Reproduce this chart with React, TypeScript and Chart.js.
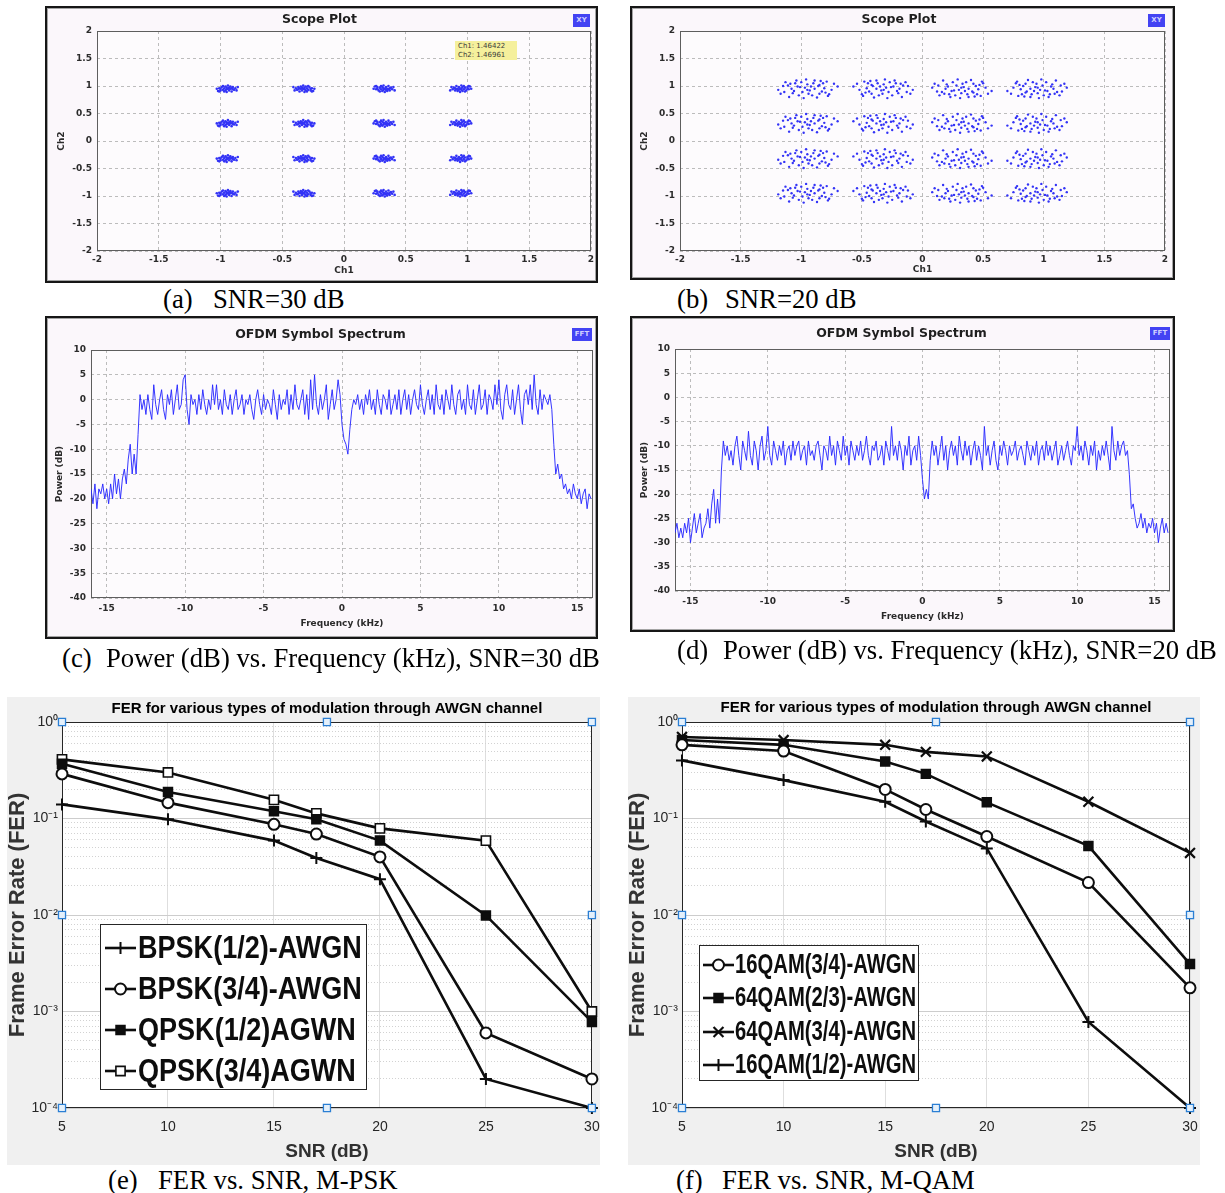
import React, { useEffect, useRef } from 'react';
import { Chart, registerables } from 'chart.js';

Chart.register(...registerables);

// ====================== DATA ======================

// (a)/(b) Scope plots – 16-QAM cluster centres (Ch1 / Ch2) and hand-read scatter offsets
const QAM_LEVELS = [-0.95, -0.32, 0.32, 0.95];
const SCOPE_TICKS = [-2, -1.5, -1, -0.5, 0, 0.5, 1, 1.5, 2];
const SCATTER_OFFSETS_30DB = [
  [-0.06, 0.01], [-0.03, -0.02], [0.0, 0.02], [0.03, 0.0], [0.05, 0.03], [-0.05, -0.03],
  [0.02, -0.03], [-0.01, 0.04], [0.07, 0.01], [-0.08, 0.0], [0.04, -0.05], [-0.02, -0.05],
  [0.01, 0.0], [-0.04, 0.03], [0.06, -0.02], [0.0, -0.01], [-0.07, -0.04], [0.03, 0.04],
  [0.08, -0.03], [-0.02, 0.01], [0.02, 0.02], [-0.05, 0.0], [0.04, 0.01], [-0.01, -0.03],
  [0.05, -0.01], [-0.03, 0.05], [0.09, 0.03], [-0.06, -0.05], [0.01, 0.06], [0.0, -0.06],
];
const SCATTER_OFFSETS_20DB = [
  [-0.2, 0.05], [-0.12, -0.08], [-0.05, 0.12], [0.02, -0.03], [0.1, 0.07], [0.18, -0.1],
  [-0.15, -0.15], [0.06, 0.15], [-0.02, 0.02], [0.14, 0.01], [-0.24, -0.02], [0.22, 0.09],
  [-0.08, 0.04], [0.04, -0.12], [-0.1, 0.1], [0.12, -0.05], [0.0, 0.08], [-0.18, 0.12],
  [0.08, -0.16], [-0.04, -0.06], [0.16, 0.13], [-0.13, 0.0], [0.03, 0.04], [0.2, -0.02],
  [-0.07, -0.12], [0.1, -0.09], [-0.01, 0.17], [0.25, 0.04], [-0.22, -0.09], [0.06, 0.0],
  [-0.16, 0.06], [0.13, 0.1], [-0.03, -0.17], [0.01, -0.09], [-0.09, 0.15], [0.17, -0.13],
  [-0.06, 0.03], [0.09, 0.05], [-0.11, -0.04], [0.05, 0.1], [-0.19, -0.06], [0.15, -0.07],
  [0.0, -0.02], [-0.14, 0.09], [0.11, 0.14],
];

// (c)/(d) OFDM symbol spectrum – FFT bins from -16 kHz, 0.125 kHz apart (16 bins per row)
const FREQ_START_KHZ = -16;
const FREQ_STEP_KHZ = 0.125;
const FREQ_TICKS = [-15, -10, -5, 0, 5, 10, 15];
const POWER_TICKS = [-40, -35, -30, -25, -20, -15, -10, -5, 0, 5, 10];
const SPECTRUM_30DB = [
  -18, -21, -17, -22, -18, -19, -17, -20, -18, -21, -17, -20, -15, -19, -16, -20,
  -16, -14, -17, -12, -9, -15, -11, -15, -7, 1, -2, 0, -3, 1, -2, -4,
  3, -1, -3, 0, 2, -2, -4, 1, -1, 2, -3, 0, 3, -2, -1, 4,
  5, -2, -5, 1, -1, 0, -3, 1, -2, 2, -1, -3, 0, -2, 3, -1,
  3, -2, 0, -3, 2, -1, -2, 1, -3, 0, 2, -2, -1, 1, -3, 0,
  -1, 1, -2, -4, 0, 2, -1, -3, 1, -2, 0, -1, -3, 2, -1, -4,
  1, -2, 0, -1, 2, -3, 1, -2, 3, -1, -2, 0, 2, -3, 1, -4,
  4, -2, 5, -1, -3, 1, -2, 0, 3, -4, -1, 2, -2, 0, 4, 1,
  -5, -8, -9, -11, -6, -2, 0, -1, 1, -2, 0, -3, 1, -1, 2, -2,
  0, -3, 2, -1, -3, 1, 0, -2, 2, -3, -1, 1, -2, 2, -3, 0,
  2, -2, 1, -3, 0, 2, -1, -2, 3, -1, -3, 0, 2, -2, 1, -3,
  3, -1, -2, 1, -3, 2, 0, -2, 3, -1, -3, 1, 2, -2, 0, -3,
  3, -1, -2, 2, -3, 0, 3, -2, -1, 2, -3, 1, 0, -2, 3, -1,
  4, -2, -4, 1, 3, -1, -2, 2, -3, 0, 3, -2, -5, 1, 2, -1,
  3, -2, 5, -1, -3, 2, -2, 1, 0, -1, 1, -2, -9, -15, -13, -16,
  -15, -18, -17, -19, -18, -20, -17, -19, -20, -18, -21, -19, -18, -22, -19, -20,
];
const SPECTRUM_20DB = [
  -28, -26, -29, -27, -29, -26, -28, -25, -30, -27, -24, -28, -26, -24, -29, -27,
  -26, -23, -27, -22, -19, -26, -21, -26, -15, -9, -12, -10, -13, -11, -14, -10,
  -8, -12, -15, -9, -11, -13, -7, -12, -14, -9, -11, -15, -10, -8, -13, -11,
  -6, -12, -14, -9, -11, -13, -10, -12, -9, -14, -11, -10, -13, -9, -12, -10,
  -9, -13, -11, -10, -14, -9, -12, -11, -13, -10, -9, -12, -15, -10, -11, -13,
  -8, -12, -10, -14, -9, -11, -13, -8, -12, -10, -14, -9, -11, -13, -10, -12,
  -9, -13, -11, -8, -12, -14, -10, -11, -9, -13, -12, -10, -14, -9, -11, -13,
  -6, -12, -10, -13, -9, -11, -15, -10, -12, -8, -14, -11, -10, -13, -8, -12,
  -17, -21, -19, -21, -13, -9, -12, -10, -14, -11, -8, -13, -10, -15, -11, -9,
  -12, -10, -14, -8, -11, -13, -9, -12, -10, -14, -11, -9, -13, -10, -12, -15,
  -6, -12, -10, -14, -11, -9, -13, -15, -10, -12, -9, -11, -14, -10, -12, -11,
  -9, -13, -11, -10, -12, -14, -9, -11, -13, -10, -12, -9, -14, -11, -10, -13,
  -9, -12, -10, -13, -11, -9, -14, -12, -10, -13, -11, -9, -12, -14, -10, -11,
  -6, -12, -10, -13, -9, -11, -14, -10, -12, -9, -15, -11, -13, -10, -12, -9,
  -12, -15, -6, -11, -13, -9, -12, -10, -9, -12, -11, -16, -23, -22, -25, -27,
  -26, -24, -27, -25, -28, -26, -27, -25, -28, -26, -30, -27, -25, -28, -26, -28,
];

// (e)/(f) Frame error rate vs SNR
const SNR_DB = [5, 10, 15, 17, 20, 25, 30];
const SNR_TICKS = [5, 10, 15, 20, 25, 30];
const FER_DECADES = [1e-4, 1e-3, 1e-2, 1e-1, 1];
const FER_BPSK_R12 = [0.14, 0.098, 0.059, 0.039, 0.0235, 2.0e-4, 1.0e-4];
const FER_BPSK_R34 = [0.29, 0.146, 0.087, 0.069, 0.04, 6.0e-4, 2.0e-4];
const FER_QPSK_R12 = [0.37, 0.188, 0.119, 0.098, 0.059, 0.0099, 7.8e-4];
const FER_QPSK_R34 = [0.41, 0.3, 0.156, 0.113, 0.079, 0.059, 1.0e-3];
const FER_16QAM_R34 = [0.58, 0.5, 0.2, 0.124, 0.065, 0.0217, 1.76e-3];
const FER_64QAM_R23 = [0.65, 0.58, 0.39, 0.29, 0.147, 0.052, 3.1e-3];
const FER_64QAM_R34 = [0.7, 0.65, 0.58, 0.49, 0.44, 0.149, 0.044];
const FER_16QAM_R12 = [0.4, 0.25, 0.149, 0.093, 0.049, 7.8e-4, 1.0e-4];
// MATLAB edit-mode selection handles (x = SNR, y = FER)
const HANDLE_SNR = [5, 17.5, 30, 5, 30, 5, 17.5, 30];
const HANDLE_FER = [1, 1, 1, 1e-2, 1e-2, 1e-4, 1e-4, 1e-4];

// ====================== STYLE / HELPERS ======================
const QT_FONT = '"DejaVu Sans", Verdana, sans-serif';
const ML_FONT = '"Liberation Sans", Arial, Helvetica, sans-serif';
const SERIF = '"Liberation Serif", "Times New Roman", Times, serif';
const INK = '#0d0d0d';
const ML_AXIS = '#262626';
const QT_PANEL = '#fbf7fb';
const QT_PLOT = '#fdfbfd';
const QT_LINE = 'rgba(38, 38, 255, 0.92)';

const SUP: Record<string, string> = { '-': '\u207B', '0': '\u2070', '1': '\u00B9', '2': '\u00B2', '3': '\u00B3', '4': '\u2074', '5': '\u2075', '6': '\u2076', '7': '\u2077', '8': '\u2078', '9': '\u2079' };
const sup = (n: number) => String(n).split('').map((ch) => SUP[ch] || ch).join('');
const isPow10 = (v?: number) => typeof v === 'number' && v > 0 && Math.abs(Math.log10(v) - Math.round(Math.log10(v))) < 1e-6;
const FER_GRID: number[] = FER_DECADES.slice(0, -1)
  .flatMap((d) => [1, 2, 3, 4, 5, 6, 7, 8, 9].map((m) => +(m * d).toPrecision(3)))
  .concat([FER_DECADES[FER_DECADES.length - 1]]);

function constellation(offsets: number[][]) {
  const pts: { x: number; y: number }[] = [];
  QAM_LEVELS.forEach((ch2, r) => {
    QAM_LEVELS.forEach((ch1, c) => {
      const k = r * 4 + c;
      const fx = k % 2 === 0 ? 1 : -1;
      const fy = Math.floor(k / 2) % 2 === 0 ? 1 : -1;
      offsets.forEach(([dx, dy]) => pts.push({ x: ch1 + fx * dx, y: ch2 + fy * dy }));
    });
  });
  return pts;
}
const spectrumPoints = (vals: number[]) => vals.map((y, i) => ({ x: FREQ_START_KHZ + i * FREQ_STEP_KHZ, y }));

function plotBackdrop(panel: string | null, plot: string, frame: string) {
  return {
    id: 'plotBackdrop',
    beforeDraw(chart: any) {
      const { ctx, chartArea: a, width, height } = chart;
      ctx.save();
      if (panel) {
        ctx.fillStyle = panel;
        ctx.fillRect(0, 0, width, height);
      }
      ctx.fillStyle = plot;
      ctx.fillRect(a.left, a.top, a.right - a.left, a.bottom - a.top);
      ctx.restore();
    },
    beforeDatasetsDraw(chart: any) {
      const { ctx, chartArea: a } = chart;
      ctx.save();
      ctx.strokeStyle = frame;
      ctx.lineWidth = 1;
      ctx.strokeRect(Math.round(a.left) + 0.5, Math.round(a.top) + 0.5, Math.round(a.right - a.left) - 1, Math.round(a.bottom - a.top) - 1);
      ctx.restore();
    },
  };
}

function qtAxis(axis: 'x' | 'y', min: number, max: number, ticks: number[], fit: number, gap: number, title: string, titlePad: any) {
  return {
    type: 'linear',
    min,
    max,
    afterBuildTicks: (s: any) => {
      s.ticks = ticks.map((value) => ({ value }));
    },
    afterFit: (s: any) => {
      if (axis === 'x') s.height = fit;
      else s.width = fit;
    },
    ticks: {
      padding: 0,
      autoSkip: false,
      maxRotation: 0,
      color: '#2b2b2b',
      font: { family: QT_FONT, size: 9, weight: 'bold' },
      callback: (v: any) => String(v),
    },
    grid: { color: '#bcbcbc', lineWidth: 1, tickLength: gap, tickColor: 'rgba(0,0,0,0)' },
    border: { display: false, dash: [3, 3] },
    title: {
      display: true,
      text: title,
      color: '#2b2b2b',
      font: { family: QT_FONT, size: 9, weight: 'bold', lineHeight: '12px' },
      padding: titlePad,
    },
  };
}

function qtConfig(p: any) {
  return {
    type: p.type,
    data: { datasets: p.datasets },
    options: {
      responsive: false,
      animation: false,
      events: [],
      layout: { padding: { left: 0, top: 0, bottom: 0, right: p.padRight } },
      plugins: {
        legend: { display: false },
        tooltip: { enabled: false },
        title: {
          display: true,
          text: p.title,
          color: '#1e1e1e',
          font: { family: QT_FONT, size: 12.5, weight: 'bold', lineHeight: p.titleLH },
          padding: p.titlePad,
        },
      },
      scales: { x: p.x, y: p.y },
    },
    plugins: [plotBackdrop(QT_PANEL, QT_PLOT, '#5e5e5e')],
  };
}

const scopeConfig = (offsets: number[][], geo: any) =>
  qtConfig({
    type: 'scatter',
    datasets: [
      {
        data: constellation(offsets),
        pointRadius: geo.dot,
        pointBorderWidth: 0,
        pointBackgroundColor: '#3333f6',
        showLine: false,
      },
    ],
    title: 'Scope Plot',
    titleLH: '14px',
    titlePad: { top: 4, bottom: 4 },
    padRight: geo.padRight,
    x: qtAxis('x', -2, 2, SCOPE_TICKS, geo.xFit, 3, 'Ch1', { top: 0, bottom: geo.xTitlePad }),
    y: qtAxis('y', -2, 2, SCOPE_TICKS, geo.yFit, 5, 'Ch2', { top: geo.yTitlePad, bottom: 0 }),
  });

const spectrumConfig = (vals: number[], geo: any) =>
  qtConfig({
    type: 'line',
    datasets: [
      {
        data: spectrumPoints(vals),
        borderColor: QT_LINE,
        borderWidth: 1,
        pointRadius: 0,
        tension: 0,
      },
    ],
    title: 'OFDM Symbol Spectrum',
    titleLH: '16px',
    titlePad: geo.titlePad,
    padRight: geo.padRight,
    x: qtAxis('x', -16, 16, FREQ_TICKS, geo.xFit, 5, 'Frequency (kHz)', { top: 0, bottom: 6 }),
    y: qtAxis('y', -40, 10, POWER_TICKS, geo.yFit, 5, 'Power (dB)', { top: 6, bottom: 0 }),
  });

// ---------- MATLAB style FER plots ----------
function drawMarker(ctx: CanvasRenderingContext2D, s: any, x: number, y: number) {
  const r = s.r;
  ctx.save();
  ctx.lineWidth = s.bw;
  ctx.strokeStyle = INK;
  ctx.fillStyle = s.fill;
  ctx.beginPath();
  if (s.marker === 'circle') {
    ctx.arc(x, y, r, 0, Math.PI * 2);
    ctx.fill();
    ctx.stroke();
  } else if (s.marker === 'rect') {
    const h = r * Math.SQRT1_2;
    ctx.rect(x - h, y - h, 2 * h, 2 * h);
    ctx.fill();
    ctx.stroke();
  } else {
    if (s.marker === 'cross' || s.marker === 'star') {
      ctx.moveTo(x - r, y);
      ctx.lineTo(x + r, y);
      ctx.moveTo(x, y - r);
      ctx.lineTo(x, y + r);
    }
    if (s.marker === 'crossRot' || s.marker === 'star') {
      const d = r * Math.SQRT1_2;
      ctx.moveTo(x - d, y - d);
      ctx.lineTo(x + d, y + d);
      ctx.moveTo(x - d, y + d);
      ctx.lineTo(x + d, y - d);
    }
    ctx.stroke();
  }
  ctx.restore();
}

function ferLegend(series: any[], L: any) {
  return {
    id: 'ferLegend',
    afterDraw(chart: any) {
      const ctx: CanvasRenderingContext2D = chart.ctx;
      const [bx, by, bw, bh] = L.box;
      ctx.save();
      ctx.fillStyle = '#ffffff';
      ctx.fillRect(bx, by, bw, bh);
      ctx.strokeStyle = ML_AXIS;
      ctx.lineWidth = 1;
      ctx.strokeRect(bx + 0.5, by + 0.5, bw - 1, bh - 1);
      ctx.font = `bold ${L.fontSize}px ${ML_FONT}`;
      ctx.textBaseline = 'middle';
      ctx.textAlign = 'left';
      series.forEach((s, i) => {
        const y = L.rows[i];
        ctx.strokeStyle = INK;
        ctx.lineWidth = 2.6;
        ctx.beginPath();
        ctx.moveTo(L.lineX[0], y);
        ctx.lineTo(L.lineX[1], y);
        ctx.stroke();
        drawMarker(ctx, s, (L.lineX[0] + L.lineX[1]) / 2, y);
        ctx.fillStyle = INK;
        const w = ctx.measureText(s.label).width;
        ctx.fillText(s.label, L.textX, y + 1, w * L.condense);
      });
      ctx.restore();
    },
  };
}

const PSK_SERIES = [
  { label: 'BPSK(1/2)-AWGN', values: FER_BPSK_R12, marker: 'cross', r: 6, bw: 2, fill: '#ffffff' },
  { label: 'BPSK(3/4)-AWGN', values: FER_BPSK_R34, marker: 'circle', r: 5.5, bw: 2, fill: '#ffffff' },
  { label: 'QPSK(1/2)AGWN', values: FER_QPSK_R12, marker: 'rect', r: 6, bw: 2, fill: INK },
  { label: 'QPSK(3/4)AGWN', values: FER_QPSK_R34, marker: 'rect', r: 6.5, bw: 1.6, fill: '#ffffff' },
];
const QAM_SERIES = [
  { label: '16QAM(3/4)-AWGN', values: FER_16QAM_R34, marker: 'circle', r: 5.5, bw: 2, fill: '#ffffff' },
  { label: '64QAM(2/3)-AWGN', values: FER_64QAM_R23, marker: 'rect', r: 6, bw: 2, fill: INK },
  { label: '64QAM(3/4)-AWGN', values: FER_64QAM_R34, marker: 'crossRot', r: 7, bw: 2.2, fill: '#ffffff' },
  { label: '16QAM(1/2)-AWGN', values: FER_16QAM_R12, marker: 'cross', r: 6, bw: 2, fill: '#ffffff' },
];

function ferConfig(series: any[], geo: any) {
  const datasets: any[] = [
    {
      label: 'handles',
      data: HANDLE_SNR.map((x, i) => ({ x, y: HANDLE_FER[i] })),
      showLine: false,
      pointStyle: 'rect',
      pointRadius: 5,
      pointBorderWidth: 1.3,
      pointBorderColor: '#2b7fd4',
      pointBackgroundColor: '#e4f0fb',
      clip: false,
      order: -1,
    },
  ].concat(
    series.map((s) => ({
      label: s.label,
      data: SNR_DB.map((x, i) => ({ x, y: s.values[i] })),
      borderColor: INK,
      borderWidth: 2.6,
      pointStyle: s.marker,
      pointRadius: s.r,
      pointBorderWidth: s.bw,
      pointBorderColor: INK,
      pointBackgroundColor: s.fill,
      clip: false,
      tension: 0,
    }))
  );
  return {
    type: 'line',
    data: { datasets },
    options: {
      responsive: false,
      animation: false,
      events: [],
      layout: { padding: { left: 0, top: 0, bottom: 0, right: geo.padRight } },
      plugins: {
        legend: { display: false },
        tooltip: { enabled: false },
        title: {
          display: true,
          fullSize: false,
          text: 'FER for various types of modulation through AWGN channel',
          color: '#000000',
          font: { family: ML_FONT, size: 15, weight: 'bold', lineHeight: '17px' },
          padding: { top: geo.titleTop, bottom: 25 - 17 - geo.titleTop },
        },
      },
      scales: {
        x: {
          type: 'linear',
          min: 5,
          max: 30,
          afterBuildTicks: (s: any) => {
            s.ticks = SNR_TICKS.map((value) => ({ value }));
          },
          afterFit: (s: any) => {
            s.height = 57;
          },
          ticks: { padding: 0, autoSkip: false, maxRotation: 0, color: ML_AXIS, font: { family: ML_FONT, size: 14 } },
          grid: { color: '#dedede', lineWidth: 1, tickLength: 10.5, tickColor: 'rgba(0,0,0,0)' },
          border: { display: false },
          title: {
            display: true,
            text: 'SNR (dB)',
            color: '#303030',
            font: { family: ML_FONT, size: 19, weight: 'bold', lineHeight: '22px' },
            padding: { top: 0, bottom: 2 },
          },
        },
        y: {
          type: 'logarithmic',
          min: 1e-4,
          max: 1,
          afterBuildTicks: (s: any) => {
            s.ticks = FER_GRID.map((value) => ({ value }));
          },
          afterFit: (s: any) => {
            s.width = geo.yFit;
          },
          ticks: {
            padding: 0,
            autoSkip: false,
            color: ML_AXIS,
            font: { family: ML_FONT, size: 14 },
            callback: (v: any) => (isPow10(v) ? '10' + sup(Math.round(Math.log10(v))) : ''),
          },
          grid: {
            color: (c: any) => (isPow10(c.tick && c.tick.value) ? '#cdcdcd' : '#d2d2d2'),
            lineWidth: 1,
            tickLength: 4,
            tickColor: 'rgba(0,0,0,0)',
          },
          border: { display: false, dash: (c: any) => (c.tick && !isPow10(c.tick.value) ? [1, 2] : []) },
          title: {
            display: true,
            text: 'Frame Error Rate (FER)',
            color: '#333333',
            font: { family: ML_FONT, size: 22, weight: 'bold', lineHeight: geo.yTitleLH },
            padding: { top: 0, bottom: 0 },
          },
        },
      },
    },
    plugins: [plotBackdrop('#f0f0f0', '#ffffff', ML_AXIS), ferLegend(series, geo.legend)],
  };
}

// ====================== COMPONENTS ======================
function ChartBox({ left, top, width, height, make }: any) {
  const ref = useRef<HTMLCanvasElement | null>(null);
  useEffect(() => {
    const chart = new Chart(ref.current as HTMLCanvasElement, make());
    return () => chart.destroy();
  }, []);
  return (
    <canvas
      ref={ref}
      width={width}
      height={height}
      style={{ position: 'absolute', left, top, width, height, display: 'block' }}
    />
  );
}

function Frame({ left, top, width, height }: any) {
  return (
    <div
      style={{
        position: 'absolute',
        left,
        top,
        width,
        height,
        boxSizing: 'border-box',
        border: '2px solid #161616',
        background: QT_PANEL,
      }}
    >
      <div style={{ position: 'absolute', inset: 0, border: '1px solid #a4a4a4' }} />
    </div>
  );
}

function Badge({ left, top, width, text }: any) {
  return (
    <div
      style={{
        position: 'absolute',
        left,
        top,
        width,
        height: 13,
        background: '#4343f3',
        color: '#cfcfff',
        font: `bold 7px/13px ${QT_FONT}`,
        textAlign: 'center',
      }}
    >
      {text}
    </div>
  );
}

function Caption({ tagX, textX, cy, tag, text }: any) {
  const st: any = {
    position: 'absolute',
    top: cy - 13,
    font: `26.7px/26px ${SERIF}`,
    color: '#000',
    whiteSpace: 'nowrap',
  };
  return (
    <>
      <div style={{ ...st, left: tagX }}>{tag}</div>
      <div style={{ ...st, left: textX }}>{text}</div>
    </>
  );
}

export default function App() {
  return (
    <div style={{ position: 'absolute', left: 0, top: 0, width: 1225, height: 1193, background: '#ffffff', overflow: 'hidden' }}>
      <Frame left={45} top={6} width={553} height={277} />
      <Frame left={630} top={6} width={545} height={274} />
      <Frame left={45} top={316} width={553} height={323} />
      <Frame left={630} top={316} width={545} height={316} />

      <ChartBox
        left={48}
        top={9}
        width={547}
        height={271}
        make={() => scopeConfig(SCATTER_OFFSETS_30DB, { dot: 1.3, padRight: 4, xFit: 29, yFit: 49, xTitlePad: 3, yTitlePad: 8 })}
      />
      <ChartBox
        left={633}
        top={9}
        width={539}
        height={268}
        make={() => scopeConfig(SCATTER_OFFSETS_20DB, { dot: 1.2, padRight: 7, xFit: 26, yFit: 47, xTitlePad: 1, yTitlePad: 6 })}
      />
      <ChartBox
        left={48}
        top={319}
        width={547}
        height={317}
        make={() => spectrumConfig(SPECTRUM_30DB, { titlePad: { top: 8, bottom: 7 }, padRight: 2, xFit: 38, yFit: 43 })}
      />
      <ChartBox
        left={633}
        top={319}
        width={539}
        height={310}
        make={() => spectrumConfig(SPECTRUM_20DB, { titlePad: { top: 7, bottom: 7 }, padRight: 2, xFit: 38, yFit: 42 })}
      />
      <ChartBox
        left={7}
        top={697}
        width={593}
        height={468}
        make={() =>
          ferConfig(PSK_SERIES, {
            padRight: 8,
            yFit: 55,
            titleTop: 3.5,
            yTitleLH: '22px',
            legend: { box: [93, 227, 267, 166], rows: [251, 292, 333, 374], lineX: [98, 129], textX: 131, fontSize: 32, condense: 0.845 },
          })
        }
      />
      <ChartBox
        left={628}
        top={697}
        width={572}
        height={468}
        make={() =>
          ferConfig(QAM_SERIES, {
            padRight: 10,
            yFit: 54,
            titleTop: 2.5,
            yTitleLH: '20px',
            legend: { box: [71, 248, 220, 136], rows: [268, 301, 335, 368], lineX: [75, 106], textX: 107, fontSize: 27, condense: 0.75 },
          })
        }
      />

      <Badge left={573} top={14} width={17} text="XY" />
      <Badge left={1148} top={14} width={17} text="XY" />
      <Badge left={572} top={328} width={20} text="FFT" />
      <Badge left={1150} top={327} width={20} text="FFT" />
      <div
        style={{
          position: 'absolute',
          left: 455,
          top: 41,
          width: 62,
          height: 19,
          background: '#f5f09c',
          color: '#3a3a3a',
          font: `7px/8.5px ${QT_FONT}`,
          padding: '1px 0 0 3px',
          boxSizing: 'border-box',
          whiteSpace: 'nowrap',
        }}
      >
        <div>Ch1: 1.46422</div>
        <div>Ch2: 1.46961</div>
      </div>

      <Caption tagX={163} textX={213} cy={299} tag="(a)" text="SNR=30 dB" />
      <Caption tagX={677} textX={725} cy={299} tag="(b)" text="SNR=20 dB" />
      <Caption tagX={62} textX={106} cy={658} tag="(c)" text="Power (dB) vs. Frequency (kHz), SNR=30 dB" />
      <Caption tagX={677} textX={723} cy={650} tag="(d)" text="Power (dB) vs. Frequency (kHz), SNR=20 dB" />
      <Caption tagX={108} textX={158} cy={1180} tag="(e)" text="FER vs. SNR, M-PSK" />
      <Caption tagX={676} textX={722} cy={1180} tag="(f)" text="FER vs. SNR, M-QAM" />
    </div>
  );
}
